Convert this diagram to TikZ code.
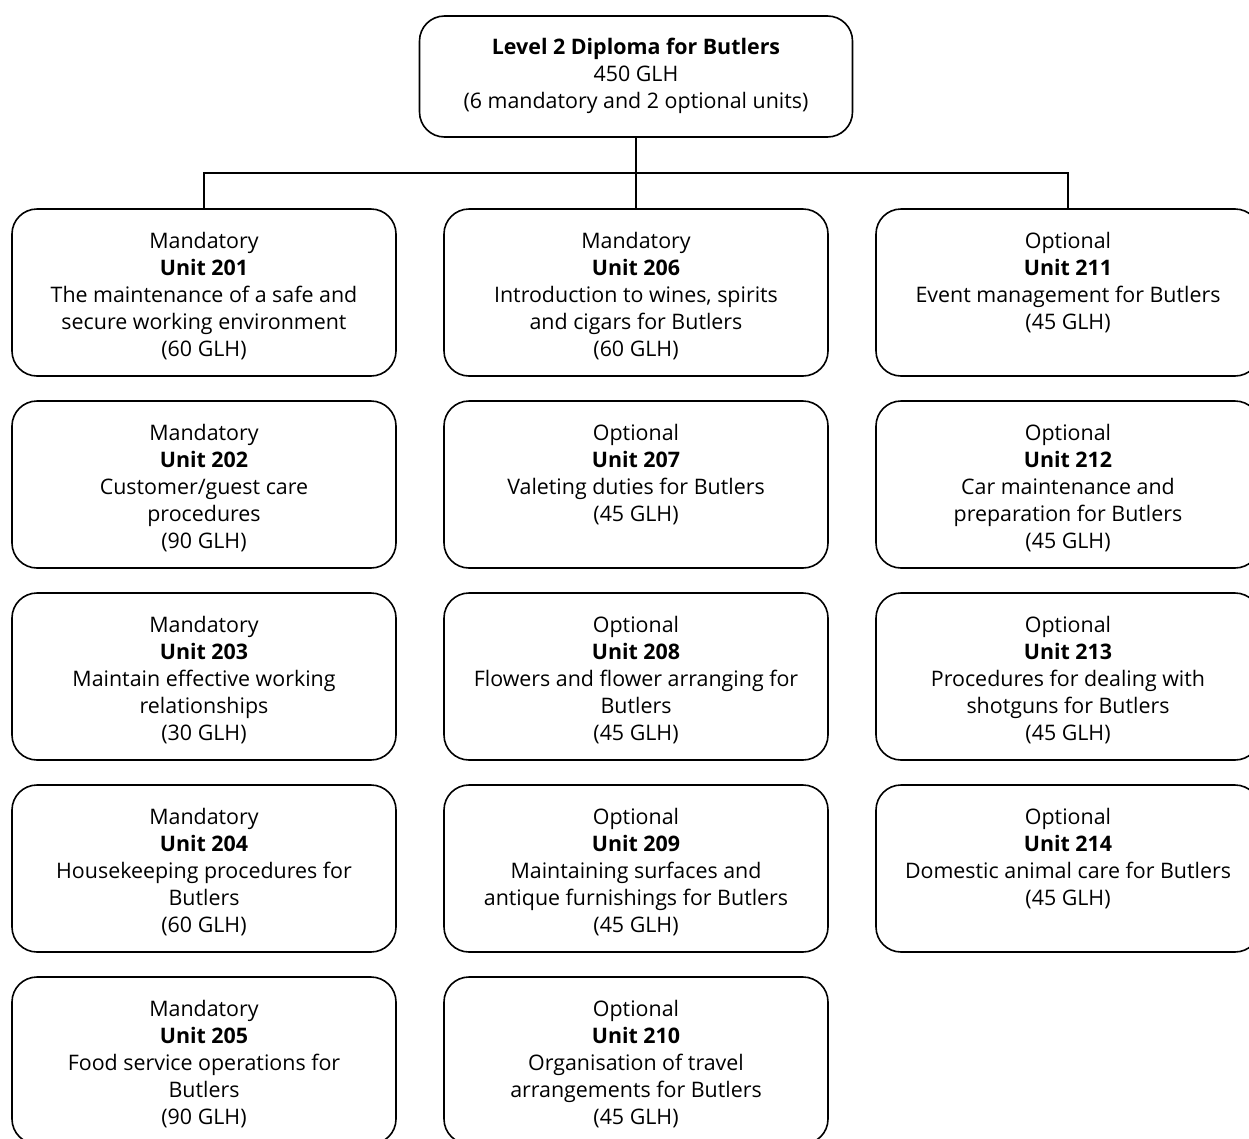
\documentclass[tikz,border=0pt]{standalone}
\usepackage{fontspec}
\setmainfont{Open Sans}
\begin{document}
\begin{tikzpicture}[x=1pt,y=-1pt,
  unitbox/.style={draw, line width=1.6pt, rounded corners=25pt, inner sep=0pt, align=center},
  conn/.style={line width=1.6pt}]
\useasboundingbox (0,0) rectangle (1249,1138);
\newcommand{\ubox}[3]{\parbox[c][167pt][t]{384pt}{\centering\fontsize{21.4pt}{27pt}\selectfont\rule{0pt}{39pt}#1\\\textbf{#2}\\#3\par}}
\node[unitbox] (top) at (636,76.5) {\parbox[c][121pt][t]{433pt}{\centering\fontsize{21.4pt}{27pt}\selectfont\rule{0pt}{38pt}\textbf{Level 2 Diploma for Butlers}\\450 GLH\\(6 mandatory and 2 optional units)\par}};
% column 1
\node[unitbox] (b201) at (204,292.5) {\ubox{Mandatory}{Unit 201}{The maintenance of a safe and\\secure working environment\\(60 GLH)}};
\node[unitbox] (b202) at (204,484.5) {\ubox{Mandatory}{Unit 202}{Customer/guest care\\procedures\\(90 GLH)}};
\node[unitbox] (b203) at (204,676.5) {\ubox{Mandatory}{Unit 203}{Maintain effective working\\relationships\\(30 GLH)}};
\node[unitbox] (b204) at (204,868.5) {\ubox{Mandatory}{Unit 204}{Housekeeping procedures for\\Butlers\\(60 GLH)}};
\node[unitbox] (b205) at (204,1060.5) {\ubox{Mandatory}{Unit 205}{Food service operations for\\Butlers\\(90 GLH)}};
% column 2
\node[unitbox] (b206) at (636,292.5) {\ubox{Mandatory}{Unit 206}{Introduction to wines, spirits\\and cigars for Butlers\\(60 GLH)}};
\node[unitbox] (b207) at (636,484.5) {\ubox{Optional}{Unit 207}{Valeting duties for Butlers\\(45 GLH)}};
\node[unitbox] (b208) at (636,676.5) {\ubox{Optional}{Unit 208}{Flowers and flower arranging for\\Butlers\\(45 GLH)}};
\node[unitbox] (b209) at (636,868.5) {\ubox{Optional}{Unit 209}{Maintaining surfaces and\\antique furnishings for Butlers\\(45 GLH)}};
\node[unitbox] (b210) at (636,1060.5) {\ubox{Optional}{Unit 210}{Organisation of travel\\arrangements for Butlers\\(45 GLH)}};
% column 3
\node[unitbox] (b211) at (1068,292.5) {\ubox{Optional}{Unit 211}{Event management for Butlers\\(45 GLH)}};
\node[unitbox] (b212) at (1068,484.5) {\ubox{Optional}{Unit 212}{Car maintenance and\\preparation for Butlers\\(45 GLH)}};
\node[unitbox] (b213) at (1068,676.5) {\ubox{Optional}{Unit 213}{Procedures for dealing with\\shotguns for Butlers\\(45 GLH)}};
\node[unitbox] (b214) at (1068,868.5) {\ubox{Optional}{Unit 214}{Domestic animal care for Butlers\\(45 GLH)}};
% connectors
\coordinate (bus) at (636,173);
\draw[conn] (top.south) -- (b206.north);
\draw[conn] (b201.north) |- (bus) -| (b211.north);
\end{tikzpicture}
\end{document}
